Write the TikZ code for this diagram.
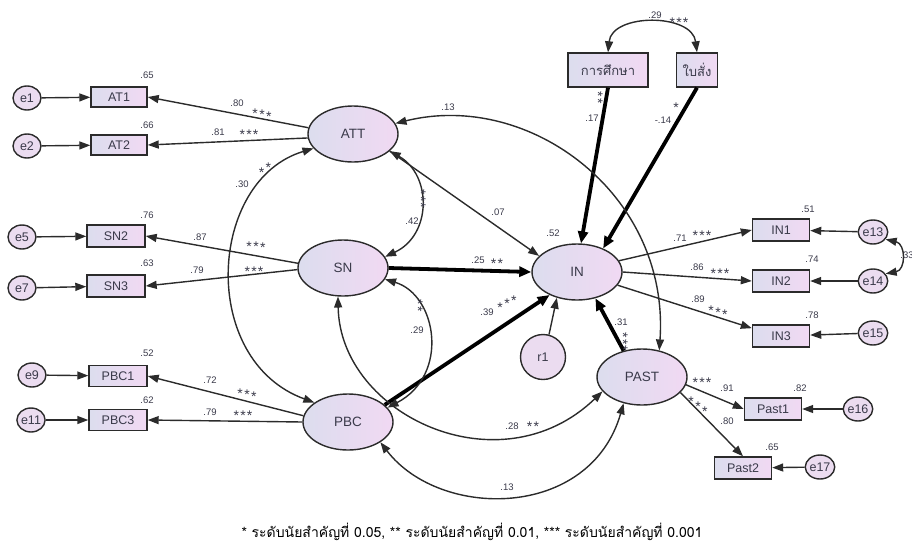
\documentclass[tikz,border=0pt]{standalone}
\usepackage{fontspec}
\setmainfont{Liberation Sans}
\newfontfamily\thai[Script=Thai]{Loma}
\usetikzlibrary{shapes.geometric,arrows.meta}
\definecolor{lineC}{HTML}{2B2B2B}
\definecolor{fillL}{HTML}{DCDDEE}
\definecolor{fillR}{HTML}{F1D9F3}
\definecolor{errF}{HTML}{EBDCF0}
\definecolor{txtC}{HTML}{3A3A4A}
\newcommand\twost{*\kern1.2pt*}
\newcommand\threest{*\kern1.2pt*\kern1.2pt*}
\newcommand\sthree[2]{*\kern1.4pt\raisebox{#1}{*}\kern1.4pt\raisebox{#2}{*}}
\newcommand\stwo[1]{*\kern1.4pt\raisebox{#1}{*}}
\tikzset{
  obs/.style={draw=lineC, line width=1.4pt, left color=fillL, right color=fillR,
    minimum width=56pt, minimum height=20pt, inner sep=0pt, text=txtC,
    font=\fontsize{12.5}{13}\selectfont},
  lat/.style={ellipse, draw=lineC, line width=1.4pt, left color=fillL, right color=fillR,
    minimum width=90pt, minimum height=56pt, inner sep=0pt, text=txtC,
    font=\fontsize{13.5}{14}\selectfont},
  err/.style={ellipse, draw=lineC, line width=1.4pt, fill=errF,
    minimum width=28pt, minimum height=24pt, inner sep=0pt, text=txtC,
    font=\fontsize{12.5}{13}\selectfont},
  lab/.style={inner sep=0pt, text=txtC, font=\fontsize{9.5}{10}\selectfont},
  stars/.style={inner sep=0pt, text=txtC, font=\fontsize{14}{14}\selectfont},
  pth/.style={draw=lineC, line width=1.4pt, -{Triangle[length=11pt,width=8pt]}},
  thk/.style={draw=black, line width=3.8pt, -{Triangle[length=12pt,width=10pt]}},
  cov/.style={draw=lineC, line width=1.4pt,
    {Triangle[length=11pt,width=8pt]}-{Triangle[length=11pt,width=8pt]}}
}
\begin{document}
\begin{tikzpicture}[x=1pt,y=-1pt]
\useasboundingbox (0,0) rectangle (912,544);
% latent variables
\node[lat] (ATT) at (353,134) {ATT};
\node[lat] (SN) at (343,268) {SN};
\node[lat] (PBC) at (348,422) {PBC};
\node[lat] (IN) at (577,272) {IN};
\node[lat] (PAST) at (642,377) {PAST};
\node[ellipse, draw=lineC, line width=1.4pt, fill=errF, minimum width=45pt, minimum height=45pt,
      inner sep=0pt, text=txtC, font=\fontsize{12.5}{13}\selectfont] (r1) at (543,357) {r1};
% observed
\node[obs] (AT1) at (119,97) {AT1};
\node[obs] (AT2) at (119,145) {AT2};
\node[obs, minimum width=58pt, minimum height=22pt] (SN2) at (116,236) {SN2};
\node[obs, minimum width=58pt, minimum height=22pt] (SN3) at (116,286) {SN3};
\node[obs, minimum width=58pt, minimum height=21pt] (PBC1) at (118,376) {PBC1};
\node[obs, minimum width=58pt, minimum height=21pt] (PBC3) at (118,420) {PBC3};
\node[obs, minimum width=57pt, minimum height=22pt] (IN1) at (781,230) {IN1};
\node[obs, minimum width=57pt, minimum height=22pt] (IN2) at (781,281) {IN2};
\node[obs, minimum width=57pt, minimum height=22pt] (IN3) at (781,336) {IN3};
\node[obs, minimum width=57pt, minimum height=22pt] (Past1) at (773,409) {Past1};
\node[obs, minimum width=57pt, minimum height=22pt] (Past2) at (743,468) {Past2};
\node[obs, minimum width=80pt, minimum height=34pt, font=\thai\fontsize{13}{14}\selectfont] (edu) at (608,70) {การศึกษา};
\node[obs, minimum width=41pt, minimum height=34pt, font=\thai\fontsize{13}{14}\selectfont] (tic) at (697,70) {ใบสั่ง};
% errors
\node[err] (e1) at (27,98) {e1};
\node[err] (e2) at (27,146) {e2};
\node[err] (e5) at (22,237) {e5};
\node[err] (e7) at (22,288) {e7};
\node[err] (e9) at (32,375) {e9};
\node[err] (e11) at (31,420) {e11};
\node[err] (e13) at (873,232) {e13};
\node[err] (e14) at (873,281) {e14};
\node[err] (e15) at (873,333) {e15};
\node[err] (e16) at (858,409) {e16};
\node[err] (e17) at (820,467) {e17};
% error arrows
\draw[pth] (e1) -- (AT1);
\draw[pth] (e2) -- (AT2);
\draw[pth] (e5) -- (SN2);
\draw[pth] (e7) -- (SN3);
\draw[pth] (e9) -- (PBC1);
\draw[pth] (e11) -- (PBC3);
\draw[pth] (e13) -- (IN1);
\draw[pth] (e14) -- (IN2);
\draw[pth] (e15) -- (IN3);
\draw[pth] (e16) -- (Past1);
\draw[pth] (e17) -- (Past2);
% loadings
\draw[pth] (ATT.172) -- (AT1.east);
\draw[pth] (ATT.185) -- (AT2.east);
\draw[pth] (SN.174) -- (SN2.east);
\draw[pth] (SN.182) -- (SN3.east);
\draw[pth] (PBC.172) -- (PBC1.east);
\draw[pth] (PBC.180) -- (PBC3.east);
\draw[pth] (IN.15) -- (IN1.west);
\draw[pth] (IN.0) -- (IN2.west);
\draw[pth] (IN.-18) -- (IN3.165);
\draw[pth] (PAST.-10) -- (Past1.west);
\draw[pth] (PAST.-22) -- (Past2.north);
% structural paths
\draw[pth] (ATT.-25) -- (IN.157);
\draw[pth] (r1.75) -- (IN.-128);
\draw[thk] (SN.east) -- (IN.west);
\draw[thk] (PBC.25) -- (IN.220);
\draw[thk] (edu.south) -- (IN.82);
\draw[thk] (tic.south) -- (IN.42);
\draw[thk] (PAST.125) -- (IN.-55);
% covariances
\draw[cov] (edu.north) .. controls (612,13) and (692,13) .. (tic.north);
\draw[cov] (e13.-30) .. controls (906,244) and (906,270) .. (e14.30);
\draw[cov] (ATT.200) .. controls (208,180) and (198,360) .. (PBC.150);
\draw[cov] (ATT.-25) .. controls (432,175) and (432,235) .. (SN.15);
\draw[cov] (SN.-15) .. controls (437,295) and (450,375) .. (PBC.20);
\draw[cov] (SN.-100) .. controls (340,415) and (500,490) .. (PAST.200);
\draw[cov] (PBC.-32) .. controls (440,520) and (590,520) .. (PAST.-125);
\draw[cov] (ATT.14) .. controls (530,90) and (670,195) .. (PAST.57);
% R squared labels
\node[lab] (r2at1) at (147,75) {.65};
\node[lab] (r2at2) at (147,125) {.66};
\node[lab] (r2sn2) at (147,215) {.76};
\node[lab] (r2sn3) at (147,263) {.63};
\node[lab] (r2pbc1) at (147,353) {.52};
\node[lab] (r2pbc3) at (147,400) {.62};
\node[lab] (r2in) at (553,233) {.52};
\node[lab] (r2in1) at (808,209) {.51};
\node[lab] (r2in2) at (812,259) {.74};
\node[lab] (r2in3) at (812,315) {.78};
\node[lab] (r2p1) at (800,388) {.82};
\node[lab] (r2p2) at (772,447) {.65};
% coefficient labels
\node[lab] (l1) at (237,103) {.80};
\node[stars] (s1) at (262,115) {\sthree{-1.2pt}{-2.4pt}};
\node[lab] (l2) at (218,132) {.81};
\node[stars] (s2) at (249,135) {\threest};
\node[lab] (l3) at (200,237) {.87};
\node[stars] (s3) at (256,247) {\sthree{-0.7pt}{-1.4pt}};
\node[lab] (l4) at (197,270) {.79};
\node[stars] (s4) at (254,272) {\threest};
\node[lab] (l5) at (210,380) {.72};
\node[stars] (s5) at (247,395) {\sthree{-1.2pt}{-2.4pt}};
\node[lab] (l6) at (210,412) {.79};
\node[stars] (s6) at (243,416) {\threest};
\node[lab] (l7) at (242,184) {.30};
\node[stars] (s7) at (265,170) {\stwo{4.5pt}};
\node[lab] (l8) at (412,221) {.42};
\node[stars, rotate=-90] (s8) at (421,199) {\threest};
\node[lab] (l9) at (417,330) {.29};
\node[stars, rotate=-90] (s9) at (418,306) {\twost};
\node[lab] (l10) at (448,107) {.13};
\node[lab] (l11) at (498,212) {.07};
\node[lab] (l12) at (478,260) {.25};
\node[stars] (s12) at (497,264) {\twost};
\node[lab] (l13) at (487,312) {.39};
\node[stars] (s13) at (507,304) {\sthree{3.5pt}{7pt}};
\node[lab] (l14) at (621,322) {.31};
\node[stars, rotate=-90] (s14) at (623,342) {\threest};
\node[lab] (l15) at (592,118) {.17};
\node[stars, rotate=-90] (s15) at (598,98) {\twost};
\node[lab] (l16) at (663,120) {-.14};
\node[stars] (s16) at (676,108) {*};
\node[lab] (l17) at (655,15) {.29};
\node[stars] (s17) at (679,23) {\threest};
\node[lab] (l18) at (680,238) {.71};
\node[stars] (s18) at (702,236) {\threest};
\node[lab] (l19) at (697,267) {.86};
\node[stars] (s19) at (720,274) {\threest};
\node[lab] (l20) at (698,299) {.89};
\node[stars] (s20) at (718,313) {\sthree{-2pt}{-4pt}};
\node[lab] (l21) at (907,255) {.33};
\node[stars] (s21) at (702,383) {\threest};
\node[lab] (l22) at (727,388) {.91};
\node[stars] (s22) at (698,407) {\sthree{-5pt}{-10pt}};
\node[lab] (l23) at (727,421) {.80};
\node[lab] (l24) at (512,426) {.28};
\node[stars] (s24) at (533,427) {\twost};
\node[lab] (l25) at (507,487) {.13};
% footer
\node[inner sep=0pt, font=\thai\fontsize{14}{15}\selectfont] (foot) at (472,532)
  {* ระดับนัยสำคัญที่ 0.05, ** ระดับนัยสำคัญที่ 0.01, *** ระดับนัยสำคัญที่ 0.001};
\end{tikzpicture}
\end{document}
